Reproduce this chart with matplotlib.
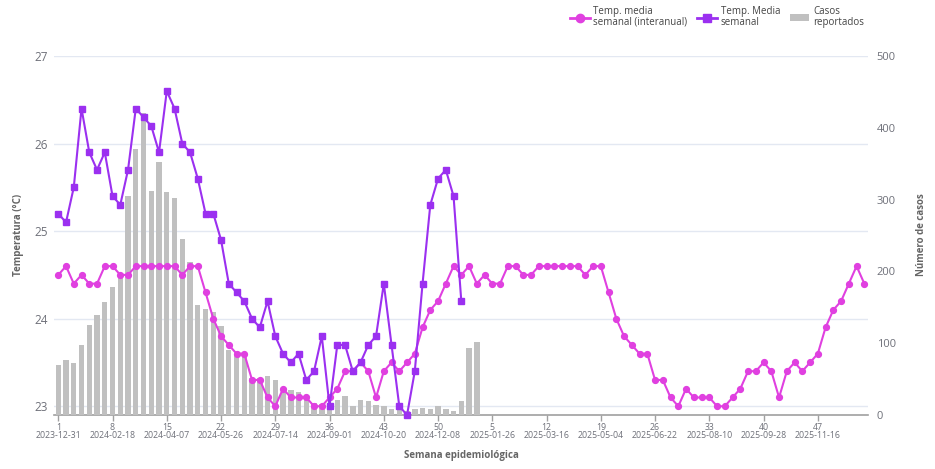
import matplotlib
matplotlib.use('Agg')
import matplotlib.pyplot as plt
import numpy as np
from matplotlib.lines import Line2D
from matplotlib.patches import Patch

plt.rcParams['font.family'] = ['Open Sans', 'DejaVu Sans']

# ---------------- data ----------------
temp_interanual = [
    24.5, 24.6, 24.4, 24.5, 24.4, 24.4, 24.6, 24.6, 24.5, 24.5, 24.6, 24.6, 24.6, 24.6, 24.6, 24.6,
    24.5, 24.6, 24.6, 24.3, 24.0, 23.8, 23.7, 23.6, 23.6, 23.3, 23.3, 23.1, 23.0, 23.2, 23.1, 23.1,
    23.1, 23.0, 23.0, 23.1, 23.2, 23.4, 23.4, 23.5, 23.4, 23.1, 23.4, 23.5, 23.4, 23.5, 23.6,
    23.9, 24.1, 24.2, 24.4, 24.6, 24.5, 24.6, 24.4, 24.5, 24.4, 24.4, 24.6, 24.6, 24.5,
    24.5, 24.6, 24.6, 24.6, 24.6, 24.6, 24.6, 24.5, 24.6, 24.6, 24.3, 24.0, 23.8, 23.7, 23.6, 23.6,
    23.3, 23.3, 23.1, 23.0, 23.2, 23.1,
    23.1, 23.1, 23.0, 23.0, 23.1, 23.2, 23.4, 23.4, 23.5, 23.4, 23.1, 23.4, 23.5, 23.4, 23.5, 23.6,
    23.9, 24.1, 24.2, 24.4, 24.6, 24.4,
]

temp_semanal = [
    25.2, 25.1, 25.5, 26.4, 25.9, 25.7, 25.9, 25.4, 25.3, 25.7, 26.4, 26.3, 26.2, 25.9, 26.6, 26.4,
    26.0, 25.9, 25.6, 25.2, 25.2, 24.9, 24.4, 24.3, 24.2, 24.0, 23.9, 24.2, 23.8, 23.6, 23.5, 23.6,
    23.3, 23.4, 23.8, 23.0, 23.7, 23.7, 23.4, 23.5, 23.7, 23.8, 24.4, 23.7, 23.0, 22.9, 23.4, 24.4,
    25.3, 25.6, 25.7, 25.4, 24.2,
]

casos = [
    69, 76, 72, 98, 126, 139, 158, 178, 193, 305, 370, 421, 312, 353, 311, 302,
    245, 213, 153, 148, 143, 124, 90, 84, 88, 52, 52, 55, 49, 30, 35, 32,
    23, 17, 16, 14, 21, 26, 12, 21, 19, 14, 12, 9, 9, 5, 9, 10,
    8, 12, 8, 5, 20, 93, 101,
]

tick_weeks = ['1', '8', '15', '22', '29', '36', '43', '50', '5', '12', '19', '26', '33', '40', '47']
tick_dates = ['2023-12-31', '2024-02-18', '2024-04-07', '2024-05-26', '2024-07-14', '2024-09-01',
              '2024-10-20', '2024-12-08', '2025-01-26', '2025-03-16', '2025-05-04', '2025-06-22',
              '2025-08-10', '2025-09-28', '2025-11-16']

temp_ticks = [23, 24, 25, 26, 27]
case_ticks = [0, 100, 200, 300, 400, 500]

# ---------------- style ----------------
C_MAG = '#e040e0'
C_PUR = '#9b30f0'
C_BAR = '#c0c0c0'
C_TXT = '#6e7079'
C_GRID = '#e3e8f2'
C_AXIS = '#a0a0a0'

W, H = 935, 469
fig = plt.figure(figsize=(W / 100, H / 100), dpi=100)
L, R, T, B = 54.4, 868.2, 56, 415
rect = [L / W, 1 - B / H, (R - L) / W, (B - T) / H]

x_all = np.arange(len(temp_interanual))
TLIM = (22.9, 27.0)
CLIM = (0, 500)

# base axis: grid + left labels + x axis
ax = fig.add_axes(rect)
ax.set_xlim(-0.5, len(temp_interanual) - 0.5)
ax.set_ylim(*TLIM)
ax.set_yticks(temp_ticks)
ax.set_yticklabels([str(t) for t in temp_ticks])
for t in temp_ticks:
    ax.axhline(t, color=C_GRID, lw=1.0, zorder=0)
ax.tick_params(axis='y', length=0, labelsize=8.5, labelcolor=C_TXT, pad=5)
tick_pos = [i * 7 for i in range(len(tick_weeks))]
ax.set_xticks(tick_pos)
ax.set_xticklabels([f'{w}\n{d}' for w, d in zip(tick_weeks, tick_dates)], linespacing=0.95)
ax.tick_params(axis='x', length=4, width=1, color=C_AXIS, labelsize=6.3, labelcolor=C_TXT, pad=1.5)
for s in ['left', 'right', 'top']:
    ax.spines[s].set_visible(False)
ax.spines['bottom'].set_color(C_AXIS)
ax.spines['bottom'].set_linewidth(1.2)

# bars on right axis
ax2 = ax.twinx()
ax2.set_ylim(*CLIM)
ax2.bar(np.arange(len(casos)), casos, width=0.7, color=C_BAR, zorder=2)
ax2.set_yticks(case_ticks)
ax2.tick_params(axis='y', length=0, labelsize=8, labelcolor=C_TXT, pad=6)
for s in ax2.spines.values():
    s.set_visible(False)
ax2.patch.set_visible(False)

# lines on top
ax3 = ax.twinx()
ax3.set_ylim(*TLIM)
ax3.axis('off')
ax3.plot(x_all, temp_interanual, color=C_MAG, lw=1.5, marker='o', ms=4.2, zorder=3, clip_on=False)
ax3.plot(np.arange(len(temp_semanal)), temp_semanal, color=C_PUR, lw=1.5, marker='s', ms=4.0,
         zorder=4, clip_on=False)

# axis titles
fig.text(18 / W, 1 - 235 / H, 'Temperatura (°C)', rotation=90, ha='center', va='center',
         fontsize=7, fontweight='bold', color='#666666')
fig.text(921 / W, 1 - 235 / H, 'Número de casos', rotation=90, ha='center', va='center',
         fontsize=7, fontweight='bold', color='#666666')
fig.text(461 / W, 1 - 455 / H, 'Semana epidemiológica', ha='center', va='center',
         fontsize=7, fontweight='bold', color='#666666')

# legend
handles = [
    Line2D([0], [0], color=C_MAG, lw=2, marker='o', ms=6),
    Line2D([0], [0], color=C_PUR, lw=2, marker='s', ms=6),
    Patch(facecolor=C_BAR, edgecolor='none'),
]
labels = ['Temp. media\nsemanal (interanual)', 'Temp. Media\nsemanal', 'Casos\nreportados']
leg = fig.legend(handles, labels, loc='upper right', bbox_to_anchor=(870 / W, 0.999), ncol=3,
                 frameon=False, fontsize=7, labelcolor='#444444', handlelength=2.0,
                 handletextpad=0.4, columnspacing=1.0, borderaxespad=0.2, labelspacing=0.1)
for t in leg.get_texts():
    t.set_linespacing(0.95)

fig.savefig('out.png', dpi=100)
